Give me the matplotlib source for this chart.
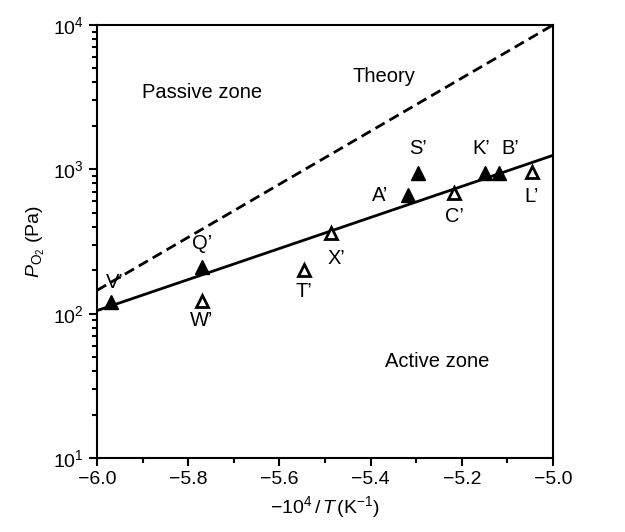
import numpy as np
import matplotlib.pyplot as plt
from matplotlib.ticker import MultipleLocator, LogLocator, NullFormatter, FuncFormatter

plt.rcParams['font.family'] = ['Liberation Sans', 'DejaVu Sans']
plt.rcParams['mathtext.fontset'] = 'custom'
plt.rcParams['mathtext.rm'] = 'Liberation Sans'
plt.rcParams['mathtext.it'] = 'Liberation Sans:italic'

# filled points
filled_names = ["V\u2019", "Q\u2019", "A\u2019", "S\u2019", "K\u2019", "B\u2019"]
filled_x = [-5.97, -5.77, -5.318, -5.296, -5.149, -5.118]
filled_y = [120, 209, 660, 950, 950, 950]

# open points
open_names = ["W\u2019", "T\u2019", "X\u2019", "C\u2019", "L\u2019"]
open_x = [-5.77, -5.546, -5.487, -5.217, -5.046]
open_y = [122, 200, 360, 690, 960]

# fitted line and theory line (endpoints)
fit_x = [-6.0, -5.0]
fit_y = [105, 1250]
theory_x = [-6.0, -5.0]
theory_y = [145, 10000]

# label offsets in points (dx, dy)
offsets = {"V\u2019": (3, 14), "Q\u2019": (0, 17), "A\u2019": (-20, 0), "S\u2019": (0, 17),
           "K\u2019": (-3, 17), "B\u2019": (8, 17), "W\u2019": (0, -14), "T\u2019": (0, -15),
           "X\u2019": (4, -18), "C\u2019": (0, -17), "L\u2019": (0, -18)}

fig = plt.figure(figsize=(6.25, 5.32), dpi=100)
ax = fig.add_axes([97 / 625, 1 - 458 / 532, 456 / 625, 433 / 532])

ax.plot(theory_x, theory_y, color='black', lw=2, ls=(0, (3.8, 2)))
ax.plot(fit_x, fit_y, color='black', lw=2)
ax.plot(filled_x, filled_y, '^', color='black', ms=10, ls='none')
ax.plot(open_x, open_y, '^', mfc='white', mec='black', mew=2, ms=8, ls='none')

for names, xs, ys in [(filled_names, filled_x, filled_y), (open_names, open_x, open_y)]:
    for n, x, y in zip(names, xs, ys):
        dx, dy = offsets[n]
        ax.annotate(n, (x, y), xytext=(dx, dy), textcoords='offset points',
                    ha='center', va='center', fontsize=14.5)

ax.text(-5.77, 10 ** 3.53, 'Passive zone', ha='center', va='center', fontsize=14.5)
ax.text(-5.37, 10 ** 3.64, 'Theory', ha='center', va='center', fontsize=14.5)
ax.text(-5.254, 10 ** 1.667, 'Active zone', ha='center', va='center', fontsize=14.5)

ax.set_yscale('log')
ax.set_xlim(-6.0, -5.0)
ax.set_ylim(10, 10000)
ax.xaxis.set_major_locator(MultipleLocator(0.2))
ax.xaxis.set_minor_locator(MultipleLocator(0.1))
ax.xaxis.set_major_formatter(FuncFormatter(lambda v, p: f'{v:.1f}'.replace('-', '\u2212')))
ax.yaxis.set_major_locator(LogLocator(base=10))
ax.yaxis.set_minor_locator(LogLocator(base=10, subs=np.arange(2, 10)))
ax.yaxis.set_minor_formatter(NullFormatter())

ax.tick_params(which='both', direction='out', top=False, right=False, labelsize=14, width=1.5)
ax.tick_params(which='major', length=6)
ax.tick_params(which='minor', length=3.5)
for s in ax.spines.values():
    s.set_linewidth(1.5)

ax.set_xlabel(r'$-10^4\,/\,\mathit{T}\,$(K$^{-1}$)', fontsize=14)
ax.set_ylabel(r'$\mathit{P}_{\mathrm{O_2}}$ (Pa)', fontsize=14)

fig.savefig('out.png', dpi=100)
